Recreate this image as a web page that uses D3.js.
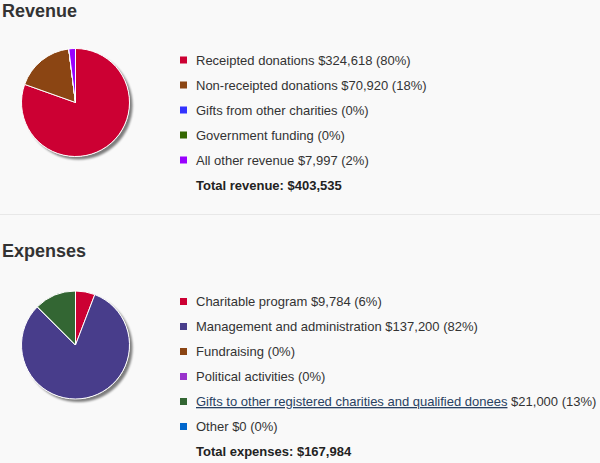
<!DOCTYPE html>
<html><head><meta charset="utf-8">
<script src="https://cdn.jsdelivr.net/npm/d3@7"></script>
<style>
html,body{margin:0;padding:0;background:#f9f9f9;}
svg{display:block;font-family:Arial,"Liberation Sans",sans-serif;}
</style></head>
<body><svg id="c" width="600" height="463"></svg>
<script>
const revenueLabels = ["Receipted donations","Non-receipted donations","Gifts from other charities","Government funding","All other revenue"];
const revenueValues = [324618, 70920, 0, 0, 7997];
const revenuePct = ["80%","18%","0%","0%","2%"];
const revenueShowAmount = [true,true,false,false,true];
const revenueColors = ["#cc0033","#8b4513","#3333ff","#336600","#9900ff"];
const revenueTotal = "Total revenue: $403,535";

const expenseLabels = ["Charitable program","Management and administration","Fundraising","Political activities","Gifts to other registered charities and qualified donees","Other"];
const expenseValues = [9784, 137200, 0, 0, 21000, 0];
const expensePct = ["6%","82%","0%","0%","13%","0%"];
const expenseShowAmount = [true,true,false,false,true,true];
const expenseLink = [false,false,false,false,true,false];
const expenseColors = ["#cc0033","#483d8b","#8b4513","#9933cc","#336633","#0066cc"];
const expenseTotal = "Total expenses: $167,984";

const svg = d3.select("#c");
const defs = svg.append("defs");
const f = defs.append("filter").attr("id","sh").attr("x","-20%").attr("y","-20%").attr("width","140%").attr("height","140%");
f.append("feGaussianBlur").attr("in","SourceAlpha").attr("stdDeviation",1);
f.append("feOffset").attr("dx",3).attr("dy",3).attr("result","o");
f.append("feComponentTransfer").append("feFuncA").attr("type","linear").attr("slope",0.5);
const m = f.append("feMerge"); m.append("feMergeNode"); m.append("feMergeNode").attr("in","SourceGraphic");

const fmt = d3.format(",");

function section(y0, title, labels, values, pct, show, colors, links, total, cy, rowY0) {
  svg.append("text").attr("x",2).attr("y",y0).attr("font-size",18).attr("font-weight","bold")
     .attr("fill","#333").text(title);
  const pie = d3.pie().sort(null).value(d=>d);
  const arc = d3.arc().innerRadius(0).outerRadius(54);
  const g = svg.append("g").attr("transform",`translate(75.5,${cy})`);
  g.append("circle").attr("r",54).attr("fill","#fff").attr("filter","url(#sh)");
  g.selectAll("path").data(pie(values)).join("path")
    .attr("d",arc).attr("fill",(d,i)=>colors[i]).attr("stroke","#fff").attr("stroke-width",1);
  const y = d3.scalePoint().domain(d3.range(labels.length+1)).range([rowY0, rowY0 + 25*labels.length]);
  labels.forEach((lab,i)=>{
    const ry = y(i);
    svg.append("rect").attr("x",180).attr("y",ry-3.5).attr("width",7).attr("height",7).attr("fill",colors[i]);
    const t = svg.append("text").attr("x",196).attr("y",ry+4.5).attr("font-size",13).attr("fill","#333");
    const isLink = links && links[i];
    t.append("tspan").attr("fill",isLink?"#284162":"#333").attr("text-decoration",isLink?"underline":null).text(lab);
    let rest = "";
    if (show[i]) rest += " $" + fmt(values[i]);
    rest += " (" + pct[i] + ")";
    t.append("tspan").text(rest);
  });
  svg.append("text").attr("x",196).attr("y",y(labels.length)+4.5).attr("font-size",13)
     .attr("font-weight","bold").attr("fill","#222").text(total);
}

section(16.5, "Revenue", revenueLabels, revenueValues, revenuePct, revenueShowAmount, revenueColors, null, revenueTotal, 102.5, 60);
svg.append("line").attr("x1",0).attr("x2",600).attr("y1",214.5).attr("y2",214.5).attr("stroke","#e8e8e8");
section(256.5, "Expenses", expenseLabels, expenseValues, expensePct, expenseShowAmount, expenseColors, expenseLink, expenseTotal, 345, 301.5);
</script></body></html>
